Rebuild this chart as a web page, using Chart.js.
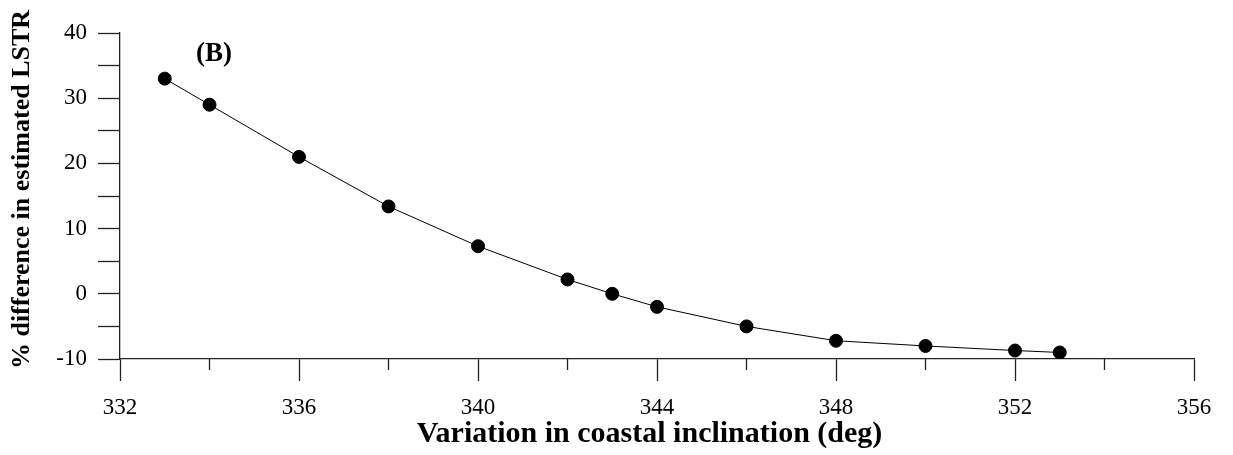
<!DOCTYPE html>
<html lang="en">

<head>
    <meta charset="UTF-8">
    <script src="https://cdn.jsdelivr.net/npm/chart.js"></script>
    <title>LSTR</title>
    <style>
        html, body { margin: 0; padding: 0; background: #fff; }
        #box { width: 1233px; height: 455px; }
    </style>
</head>

<body>
    <div id="box"><canvas id="lstrChart" width="1233" height="455"></canvas></div>
</body>

</html>

<script>
    // data
    const inclinacao = [333, 334, 336, 338, 340, 342, 343, 344, 346, 348, 350, 352, 353]
    const diferenca = [33, 29, 21, 13.4, 7.3, 2.2, 0, -2, -5, -7.2, -8, -8.7, -9]
    const xTicks = [332, 336, 340, 344, 348, 352, 356]
    const yTicks = [-10, 0, 10, 20, 30, 40]

    const serif = "'Liberation Serif', 'Times New Roman', serif"
    const axisColor = '#222'

    // minor ticks on x are shorter, draw them here
    const minorTicks = {
        id: 'minorTicks',
        afterDraw(chart) {
            const ctx = chart.ctx
            const x = chart.scales.x
            ctx.save()
            ctx.strokeStyle = axisColor
            ctx.lineWidth = 1.3
            x.ticks.forEach(t => {
                if (xTicks.includes(t.value)) return
                const px = x.getPixelForValue(t.value)
                ctx.beginPath()
                ctx.moveTo(px, x.top)
                ctx.lineTo(px, x.top + 11)
                ctx.stroke()
            })
            // panel tag
            ctx.fillStyle = '#000'
            ctx.font = "bold 27px " + serif
            ctx.textAlign = 'center'
            ctx.textBaseline = 'middle'
            ctx.fillText('(B)', x.getPixelForValue(334.1), chart.scales.y.getPixelForValue(36.8))
            ctx.restore()
        }
    }

    new Chart(lstrChart, {
        type: 'scatter',
        data: {
            datasets: [{
                data: inclinacao.map((v, i) => ({ x: v, y: diferenca[i] })),
                showLine: true,
                borderColor: '#000',
                borderWidth: 1,
                backgroundColor: '#000',
                pointRadius: 6.5,
                pointHoverRadius: 6.5,
                tension: 0
            }]
        },
        options: {
            responsive: false,
            animation: false,
            devicePixelRatio: 1,
            layout: { padding: { top: 33, right: 39, left: 0, bottom: 0 } },
            plugins: { legend: { display: false }, tooltip: { enabled: false } },
            scales: {
                x: {
                    type: 'linear',
                    min: 332,
                    max: 356,
                    afterFit: s => { s.height = 96 },
                    ticks: {
                        stepSize: 2,
                        autoSkip: false,
                        maxRotation: 0,
                        padding: 13,
                        color: '#000',
                        font: { family: serif, size: 23 },
                        callback: v => xTicks.includes(v) ? v : ''
                    },
                    grid: {
                        drawOnChartArea: false,
                        tickLength: 22,
                        tickWidth: 1.3,
                        tickColor: c => xTicks.includes(c.tick.value) ? axisColor : 'rgba(0,0,0,0)'
                    },
                    border: { display: true, color: axisColor, width: 1.3 },
                    title: {
                        display: true,
                        text: 'Variation in coastal inclination (deg)  ',
                        color: '#000',
                        font: { family: serif, size: 30, weight: 'bold', lineHeight: 1.2 },
                        padding: { top: 0, bottom: 3 }
                    }
                },
                y: {
                    min: -10,
                    max: 40,
                    afterFit: s => { s.width = 120 },
                    ticks: {
                        stepSize: 5,
                        padding: 11,
                        color: '#000',
                        font: { family: serif, size: 23 },
                        callback: v => yTicks.includes(v) ? v : ''
                    },
                    grid: {
                        drawOnChartArea: false,
                        tickLength: 22,
                        tickWidth: 1.3,
                        tickColor: axisColor
                    },
                    border: { display: true, color: axisColor, width: 1.3 },
                    title: {
                        display: true,
                        text: '  % difference in estimated LSTR',
                        color: '#000',
                        font: { family: serif, size: 26, weight: 'bold', lineHeight: 1.2 },
                        padding: { top: 7, bottom: 0 }
                    }
                }
            }
        },
        plugins: [minorTicks]
    });
</script>
